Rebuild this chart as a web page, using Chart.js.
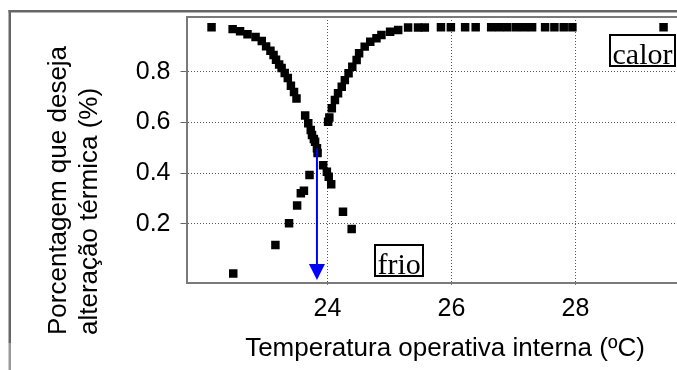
<!DOCTYPE html>
<html><head><meta charset="utf-8">
<script src="https://cdn.jsdelivr.net/npm/chart.js@4/dist/chart.umd.min.js"></script>
<style>html,body{margin:0;padding:0;background:#fff;} canvas{display:block;}</style>
</head><body><canvas id="c" width="677" height="370"></canvas>
<script>
// ---- data ----
const descX = [22.13, 22.47, 22.59, 22.71, 22.84, 22.94, 23.01, 23.08, 23.13, 23.17, 23.22, 23.26, 23.31, 23.36, 23.41, 23.46, 23.50, 23.64, 23.69, 23.73, 23.75, 23.78, 23.80, 23.83, 23.84, 23.93, 23.99, 24.02, 24.06, 24.25, 24.39];
const descY = [0.975, 0.968, 0.960, 0.948, 0.937, 0.921, 0.900, 0.883, 0.866, 0.847, 0.829, 0.815, 0.795, 0.775, 0.745, 0.720, 0.695, 0.628, 0.597, 0.570, 0.551, 0.535, 0.524, 0.498, 0.480, 0.431, 0.406, 0.386, 0.357, 0.248, 0.180];
const ascX = [22.48, 23.16, 23.38, 23.51, 23.57, 23.62, 23.71, 24.01, 24.03, 24.07, 24.12, 24.17, 24.23, 24.28, 24.34, 24.40, 24.47, 24.51, 24.60, 24.69, 24.79, 24.87, 25.01, 25.14, 25.30, 25.46, 25.57, 25.83, 25.99, 26.22, 26.39, 26.64, 26.77, 26.90, 27.04, 27.17, 27.30, 27.51, 27.66, 27.81, 27.95, 29.42];
const ascY = [0.005, 0.117, 0.203, 0.273, 0.321, 0.331, 0.393, 0.603, 0.620, 0.656, 0.689, 0.715, 0.741, 0.767, 0.794, 0.820, 0.846, 0.873, 0.899, 0.918, 0.932, 0.945, 0.958, 0.965, 0.974, 0.974, 0.974, 0.975, 0.975, 0.975, 0.975, 0.975, 0.975, 0.975, 0.975, 0.975, 0.975, 0.975, 0.975, 0.975, 0.975, 0.975];
const xTicks = [24, 26, 28];
const xTickLabels = ['24', '26', '28'];
const yTicks = [0.2, 0.4, 0.6, 0.8];
const yTickLabels = ['0.2', '0.4', '0.6', '0.8'];
const xRange = [21.726, 29.637];
const yRange = [-0.0327, 1.0158];
const arrowX = 23.83, arrowFrom = 0.498, arrowTo = -0.021;
const boxLabels = ['frio', 'calor'];
const boxX = [24.766, 28.556];
const boxY = [0.117, 0.945];
const xTitle = 'Temperatura operativa interna (ºC)';
const yTitle = ['Porcentagem que deseja', 'alteração térmica (%)'];

const SANS = '"Liberation Sans", Arial, sans-serif';
const SERIF = '"Liberation Serif", "Times New Roman", serif';
const toPts = (xs, ys) => xs.map((x, i) => ({x, y: ys[i]}));

const decor = {
  id: 'decor',
  beforeDraw(chart) {
    const ctx = chart.ctx;
    ctx.save();
    ctx.fillStyle = '#fff';
    ctx.fillRect(0, 0, chart.width, chart.height);
    ctx.fillStyle = '#666';
    ctx.fillRect(8.5, 10, chart.width, 2.5);
    ctx.fillRect(8.5, 10, 2.5, 333);
    ctx.fillStyle = '#999';
    ctx.fillRect(8.5, 343, 2.5, 30);
    ctx.restore();
  },
  afterDraw(chart) {
    const ctx = chart.ctx, a = chart.chartArea;
    const xs = chart.scales.x, ys = chart.scales.y;
    ctx.save();
    ctx.setLineDash([]);
    // top border of plot
    ctx.strokeStyle = '#7a7a7a';
    ctx.lineWidth = 2;
    ctx.beginPath(); ctx.moveTo(a.left, a.top); ctx.lineTo(a.right, a.top); ctx.stroke();
    // arrow
    const ax = xs.getPixelForValue(arrowX);
    const y0 = ys.getPixelForValue(arrowFrom), y1 = ys.getPixelForValue(arrowTo);
    ctx.strokeStyle = '#0000ff'; ctx.fillStyle = '#0000ff'; ctx.lineWidth = 2;
    ctx.beginPath(); ctx.moveTo(ax, y0); ctx.lineTo(ax, y1 - 14); ctx.stroke();
    ctx.beginPath(); ctx.moveTo(ax - 8, y1 - 16); ctx.lineTo(ax + 8, y1 - 16); ctx.lineTo(ax, y1); ctx.closePath(); ctx.fill();
    // boxed labels
    ctx.font = '30px ' + SERIF;
    ctx.textAlign = 'left'; ctx.textBaseline = 'alphabetic';
    boxLabels.forEach((t, i) => {
      const bx = Math.round(xs.getPixelForValue(boxX[i])), by = Math.round(ys.getPixelForValue(boxY[i]));
      const w = Math.round(ctx.measureText(t).width + 5);
      ctx.fillStyle = '#fff'; ctx.fillRect(bx, by, w, 31);
      ctx.strokeStyle = '#000'; ctx.lineWidth = 2; ctx.strokeRect(bx, by, w, 31);
      ctx.fillStyle = '#000'; ctx.fillText(t, bx + 2.5, by + 29);
    });
    // axis titles
    ctx.fillStyle = '#000';
    ctx.font = '26px ' + SANS;
    ctx.textAlign = 'center';
    ctx.fillText(xTitle, 445, 356);
    ctx.textAlign = 'left';
    [66, 97].forEach((bx, i) => {
      ctx.save(); ctx.translate(bx, 335); ctx.rotate(-Math.PI / 2);
      ctx.fillText(yTitle[i], 0, 0); ctx.restore();
    });
    ctx.restore();
  }
};

const ptStyle = {pointStyle: 'rect', pointRadius: 6, pointHoverRadius: 6, borderWidth: 0, backgroundColor: '#000', borderColor: '#000', showLine: false};

new Chart(document.getElementById('c'), {
  type: 'scatter',
  data: {
    datasets: [
      Object.assign({label: 'frio', data: toPts(descX, descY)}, ptStyle),
      Object.assign({label: 'calor', data: toPts(ascX, ascY)}, ptStyle)
    ]
  },
  options: {
    responsive: false, animation: false, devicePixelRatio: 1,
    layout: {autoPadding: false, padding: {top: 17, left: 0, right: 0, bottom: 0}},
    plugins: {legend: {display: false}, tooltip: {enabled: false}},
    scales: {
      x: {
        type: 'linear', min: xRange[0], max: xRange[1],
        afterBuildTicks: s => { s.ticks = xTicks.map(v => ({value: v})); },
        afterFit: s => { s.height = 87; s.paddingLeft = 0; s.paddingRight = 0; s.paddingTop = 0; s.paddingBottom = 0; },
        ticks: {font: {family: SANS, size: 25}, color: '#000', padding: 7, maxRotation: 0,
          callback: v => xTickLabels[xTicks.indexOf(v)]},
        grid: {color: '#555', lineWidth: 1, tickLength: 4, drawTicks: true, tickColor: '#777', tickBorderDash: [1, 2]},
        border: {display: true, color: '#7a7a7a', width: 2, dash: [1, 2]}
      },
      y: {
        type: 'linear', min: yRange[0], max: yRange[1],
        afterBuildTicks: s => { s.ticks = yTicks.map(v => ({value: v})); },
        afterFit: s => { s.width = 186.5; s.paddingLeft = 0; s.paddingRight = 0; s.paddingTop = 0; s.paddingBottom = 0; },
        ticks: {font: {family: SANS, size: 25}, color: '#000', padding: 10,
          callback: v => yTickLabels[yTicks.indexOf(v)]},
        grid: {color: '#555', lineWidth: 1, tickLength: 6, drawTicks: true, tickColor: '#666', tickBorderDash: []},
        border: {display: true, color: '#7a7a7a', width: 2, dash: [1, 2]}
      }
    }
  },
  plugins: [decor]
});
</script></body></html>
